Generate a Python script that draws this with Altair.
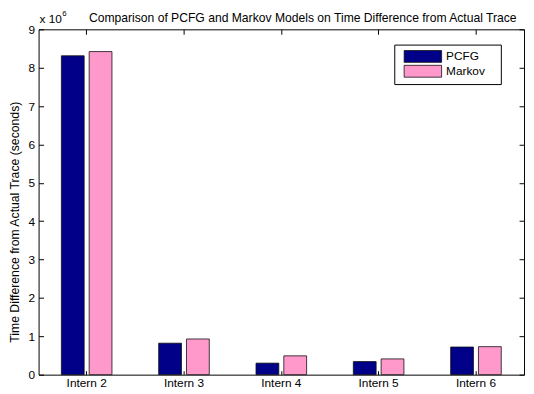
import altair as alt
import pandas as pd

categories = ["Intern 2", "Intern 3", "Intern 4", "Intern 5", "Intern 6"]
models = ["PCFG", "Markov"]
pcfg = [8.31e6, 0.82e6, 0.30e6, 0.34e6, 0.72e6]
markov = [8.42e6, 0.93e6, 0.49e6, 0.41e6, 0.73e6]
colors = ["#000088", "#FF99CC"]
y_ticks = [0, 1e6, 2e6, 3e6, 4e6, 5e6, 6e6, 7e6, 8e6, 9e6]

title_text = "Comparison of PCFG and Markov Models on Time Difference from Actual Trace"
y_title = "Time Difference from Actual Trace (seconds)"

rows = []
for c, p, m in zip(categories, pcfg, markov):
    rows.append({"category": c, "model": "PCFG", "value": p})
    rows.append({"category": c, "model": "Markov", "value": m})
df = pd.DataFrame(rows)

FONT = "Liberation Sans"
FS = 12

xscale = alt.Scale(domain=categories, paddingInner=0.48, paddingOuter=0.234)
yscale = alt.Scale(domain=[0, 9e6], nice=False)

bars = alt.Chart(df).mark_bar(stroke="#111111", strokeWidth=0.8).encode(
    x=alt.X("category:N", scale=xscale, sort=categories,
            axis=alt.Axis(title=None, orient="bottom", offset=-4, tickSize=4,
                          domain=False, labelAngle=0, labelPadding=3,
                          labelFontSize=FS, labelFont=FONT, labelColor="black",
                          tickColor="black")),
    xOffset=alt.XOffset("model:N", sort=models,
                        scale=alt.Scale(paddingInner=0.18, paddingOuter=0)),
    y=alt.Y("value:Q", scale=yscale,
            axis=alt.Axis(title=y_title, orient="left", offset=-5, tickSize=5,
                          domain=False, grid=False, values=y_ticks,
                          labelExpr="format(datum.value / 1000000, 'd')",
                          labelPadding=4, labelFontSize=FS, labelFont=FONT,
                          labelColor="black", tickColor="black",
                          titleFontSize=12.4, titleFont=FONT, titleFontWeight="normal",
                          titleColor="black", titleAngle=270, titleAlign="center",
                          titleBaseline="middle", titleX=-29, titleY=195)),
    color=alt.Color("model:N", sort=models,
                    scale=alt.Scale(domain=models, range=colors),
                    legend=alt.Legend(title=None, orient="none", legendX=370, legendY=21,
                                      padding=0, symbolType="M-1,-1H5.33V1H-1Z",
                                      symbolSize=144, symbolStrokeColor="#111111",
                                      symbolStrokeWidth=0.8, symbolOpacity=1,
                                      labelOffset=30, rowPadding=-2,
                                      labelFontSize=FS, labelFont=FONT,
                                      labelColor="black")),
)

frame_axes = alt.Chart(df).mark_point(opacity=0, size=0).encode(
    x=alt.X("category:N", scale=xscale, sort=categories,
            axis=alt.Axis(title=None, orient="top", offset=-5, tickSize=5,
                          domain=False, labels=False, tickColor="black")),
    y=alt.Y("value:Q", scale=yscale,
            axis=alt.Axis(title=None, orient="right", offset=-5, tickSize=5,
                          domain=False, labels=False, grid=False, values=y_ticks,
                          tickColor="black")),
)

one = pd.DataFrame({"t": [0]})

legend_box = alt.Chart(one).mark_rect(fill="white", stroke="black", strokeWidth=1).encode(
    x=alt.value(361), x2=alt.value(469), y=alt.value(16), y2=alt.value(56)
)

title = alt.Chart(one).mark_text(text=title_text, align="left", baseline="alphabetic",
                                  fontSize=12.3, font=FONT, color="black").encode(
    x=alt.value(51), y=alt.value(-7)
)

exp_base = alt.Chart(one).mark_text(text="x 10", align="left", baseline="alphabetic",
                                     fontSize=FS, font=FONT, color="black").encode(
    x=alt.value(1), y=alt.value(-6)
)
exp_sup = alt.Chart(one).mark_text(text="6", align="left", baseline="alphabetic",
                                    fontSize=8, font=FONT, color="black").encode(
    x=alt.value(24), y=alt.value(-14)
)

chart = alt.layer(legend_box, bars, frame_axes, title, exp_base, exp_sup).resolve_axis(
    x="independent", y="independent"
).properties(
    width=492, height=350,
    autosize=alt.AutoSizeParams(type="none"),
    padding={"left": 31, "top": 19, "right": 2, "bottom": 17},
    background="white",
).configure_view(stroke="black", strokeWidth=1)

chart.save("out.html", embed_options={"renderer": "svg", "actions": False})
